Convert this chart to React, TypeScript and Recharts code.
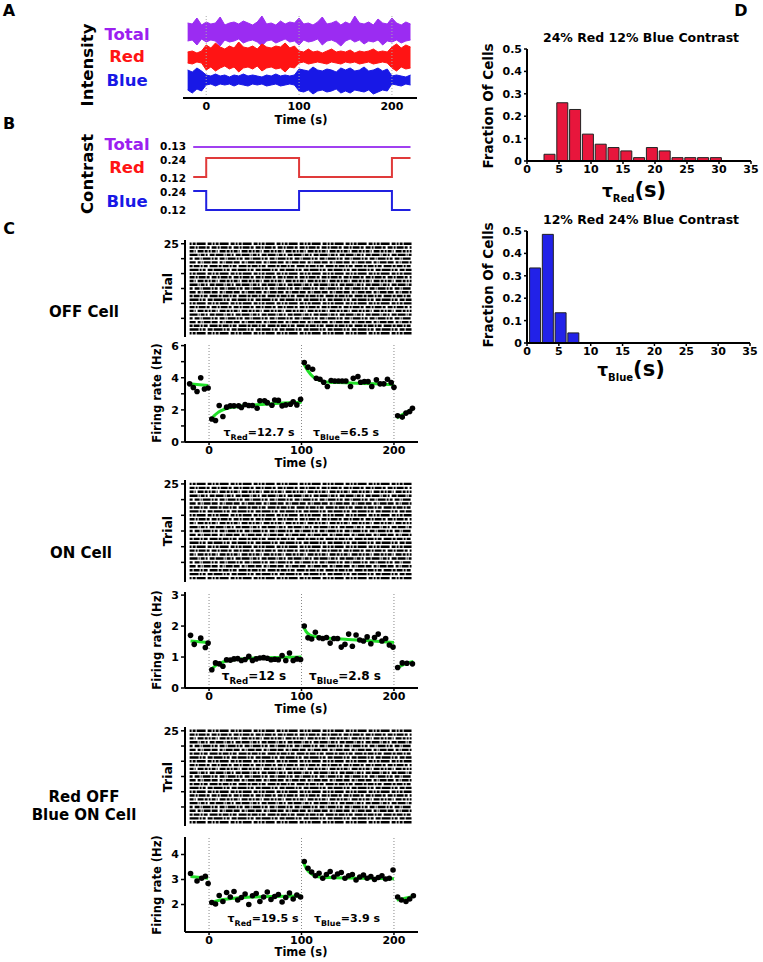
import React from 'react';
import { ComposedChart, Line, Area, Scatter, Bar, XAxis, YAxis, ReferenceLine } from 'recharts';

const FONT = '"DejaVu Sans", Verdana, sans-serif';
const GREEN = '#22e02a';
const PURPLE = '#9b2cf2';
const RED = '#ff1414';
const BLUE = '#1818e6';

// ---------- Panel A: stimulus intensity envelopes ----------
const intTimes = [-20,-15,-10,-5,0,5,10,15,20,25,30,35,40,45,50,55,60,65,70,75,80,85,90,95,100,105,110,115,120,125,130,135,140,145,150,155,160,165,170,175,180,185,190,195,200,205,210,215,220];
const totalHi = [75,74,80,73,76,74,75,81,73,75, 76,74,77,75,73,76,82,74,75,73, 77,74,76,75,80,74,75,73,76,81, 74,75,77,73,76,74,82,75,74,76, 73,79,75,74,80,75,73,76,74];
const totalLo = [57,58,53,59,56,58,57,52,58,56, 57,59,55,57,58,56,52,57,58,55, 57,59,56,57,53,58,56,57,59,53, 57,58,56,52,57,59,56,58,54,57, 56,58,53,57,56,58,55,57,58];
const redHi = [46,47,45,47, 53,50,55,51,49,52,50,56,51,50,52,49,54,51,50,52,51,55,50,52, 47,46,49,46,47,45,47,49,46,47,46,48,45,47,46,47,49,46,47,46, 51,54,50,53,51];
const redLo = [35,34,36,35, 28,31,27,30,32,29,31,26,30,31,29,32,27,30,31,29,30,26,31,30, 35,36,34,35,36,35,34,36,35,34,36,35,36,34,35,36,34,35,36,35, 30,27,31,29,30];
const blueHi = [28,26,30,27, 23,22,24,22,23,21,23,22,24,22,23,22,21,23,22,24,22,23,22,23, 29,28,27,31,28,27,29,28,26,30,28,30,27,28,31,27,28,30,27,29, 22,23,22,21,23];
const blueLo = [8,5,9,7, 13,14,12,14,13,14,12,14,13,12,14,13,14,12,13,14,12,13,14,13, 7,6,8,4,7,8,6,7,9,5,7,5,8,7,6,8,4,6,8,7, 14,13,12,14,13];

// ---------- Panel B: contrast steps ----------
const contrastTimes = [-14, 0, 100, 200, 220];
const contrastTotal = [0.13, 0.13, 0.13, 0.13, 0.13];
const contrastRed = [0.12, 0.24, 0.12, 0.24, 0.24];
const contrastBlue = [0.24, 0.12, 0.24, 0.12, 0.12];

// ---------- Panel C: firing rates ----------
const offPreT = [-21, -17, -13, -9, -5, -1];
const offPreV = [3.62, 3.39, 3.14, 4.0, 3.3, 3.36];
const offRedT = [3, 7, 11, 15, 19, 23, 27, 32, 35, 39, 43, 47, 52, 55, 60, 63, 68, 71, 75, 79, 83, 88, 91, 95, 99];
const offRedV = [1.43, 1.34, 2.27, 1.59, 2.17, 2.25, 2.25, 2.25, 2.15, 2.33, 2.27, 2.27, 2.1, 2.57, 2.57, 2.45, 2.29, 2.61, 2.59, 2.25, 2.31, 2.35, 2.51, 2.31, 2.66];
const offBlueT = [103, 107, 112, 116, 120, 124, 128, 132, 136, 140, 144, 148, 153, 156, 161, 164, 168, 172, 176, 181, 185, 189, 193, 197, 200];
const offBlueV = [4.95, 4.66, 4.53, 3.97, 3.91, 3.72, 3.45, 3.83, 3.8, 3.8, 3.8, 3.8, 3.45, 3.97, 4.07, 3.72, 3.76, 3.76, 3.45, 3.87, 3.62, 3.62, 3.91, 3.7, 3.41];
const offPostT = [204, 209, 213, 217, 220];
const offPostV = [1.63, 1.55, 1.8, 1.9, 2.1];
const offFitPreT = [-22, -1];
const offFitPreV = [3.62, 3.52];
const offFitRedT = [2, 5, 10, 15, 20, 30, 40, 60, 80, 100];
const offFitRedV = [1.35, 1.6, 1.85, 2.0, 2.1, 2.2, 2.27, 2.35, 2.42, 2.47];
const offFitBlueT = [102, 105, 110, 115, 120, 130, 140, 160, 180, 200];
const offFitBlueV = [4.95, 4.6, 4.2, 3.95, 3.82, 3.72, 3.7, 3.66, 3.62, 3.56];
const offFitPostT = [203, 212, 220];
const offFitPostV = [1.5, 1.8, 2.05];

const onPreT = [-20, -16, -9, -4, -1];
const onPreV = [1.7, 1.41, 1.61, 1.31, 1.45];
const onRedT = [3, 7, 11, 15, 19, 23, 27, 31, 35, 39, 43, 47, 51, 55, 59, 63, 67, 71, 75, 79, 83, 87, 91, 95, 99];
const onRedV = [0.59, 0.81, 0.78, 0.7, 0.91, 0.9, 0.94, 0.95, 0.89, 0.92, 1.02, 0.89, 0.94, 0.97, 0.98, 0.96, 0.91, 0.93, 0.91, 1.05, 0.89, 1.13, 0.89, 0.94, 0.92];
const onBlueT = [103, 107, 111, 115, 119, 123, 127, 131, 135, 139, 143, 147, 151, 155, 159, 163, 167, 171, 175, 179, 183, 187, 191, 195, 199];
const onBlueV = [2.0, 1.62, 1.58, 1.8, 1.62, 1.6, 1.63, 1.45, 1.6, 1.6, 1.32, 1.41, 1.74, 1.35, 1.71, 1.55, 1.52, 1.65, 1.43, 1.63, 1.74, 1.52, 1.6, 1.39, 1.32];
const onPostT = [204, 209, 214, 220];
const onPostV = [0.66, 0.81, 0.8, 0.78];
const onFitPreT = [-20, -1];
const onFitPreV = [1.52, 1.47];
const onFitRedT = [3, 6, 10, 15, 20, 30, 40, 60, 80, 100];
const onFitRedV = [0.62, 0.7, 0.78, 0.84, 0.88, 0.92, 0.95, 0.98, 0.99, 1.0];
const onFitBlueT = [102, 105, 110, 115, 120, 130, 150, 170, 200];
const onFitBlueV = [2.0, 1.82, 1.7, 1.66, 1.64, 1.61, 1.57, 1.53, 1.47];
const onFitPostT = [204, 212, 221];
const onFitPostV = [0.66, 0.78, 0.86];

const rbPreT = [-20, -13, -8, -4, -1];
const rbPreV = [3.24, 2.94, 3.05, 3.13, 2.84];
const rbRedT = [3, 7, 11, 15, 19, 23, 27, 31, 35, 39, 43, 47, 51, 55, 59, 63, 67, 71, 75, 79, 83, 87, 91, 95, 99];
const rbRedV = [2.08, 2.02, 2.36, 2.12, 2.48, 2.3, 2.52, 2.18, 2.28, 2.42, 2.0, 2.35, 2.44, 2.12, 2.3, 2.5, 2.2, 2.32, 2.4, 2.1, 2.28, 2.46, 2.22, 2.38, 2.3];
const rbBlueT = [103, 107, 111, 115, 119, 123, 127, 131, 135, 139, 143, 147, 151, 155, 159, 163, 167, 171, 175, 179, 183, 187, 191, 195, 199];
const rbBlueV = [3.72, 3.45, 3.3, 3.15, 3.25, 3.05, 3.2, 3.32, 3.1, 3.22, 3.28, 3.05, 3.15, 3.2, 2.98, 3.1, 3.18, 3.05, 3.12, 3.0, 3.08, 3.15, 3.02, 3.05, 3.38];
const rbPostT = [204, 208, 213, 217, 221];
const rbPostV = [2.3, 2.18, 2.12, 2.22, 2.35];
const rbFitPreT = [-20, -1];
const rbFitPreV = [3.12, 3.05];
const rbFitRedT = [2, 5, 10, 20, 30, 50, 70, 100];
const rbFitRedV = [2.05, 2.1, 2.16, 2.22, 2.26, 2.3, 2.32, 2.34];
const rbFitBlueT = [102, 105, 110, 115, 120, 130, 150, 170, 200];
const rbFitBlueV = [3.7, 3.45, 3.25, 3.15, 3.1, 3.08, 3.06, 3.05, 3.03];
const rbFitPostT = [203, 221];
const rbFitPostV = [2.18, 2.32];

const tauRed = ['12.7', '12', '19.5'];
const tauBlue = ['6.5', '2.8', '3.9'];
const trials = [1,2,3,4,5,6,7,8,9,10,11,12,13,14,15,16,17,18,19,20,21,22,23,24,25];
const trialTicks = [1, 5, 9, 13, 17, 21, 25];
const timeTicks = [0, 100, 200];

// ---------- Panel D: histograms ----------
const redBins = [3.5, 5.5, 7.5, 9.5, 11.5, 13.5, 15.5, 17.5, 19.5, 21.5, 23.5, 25.5, 27.5, 29.5];
const redFrac = [0.03, 0.26, 0.23, 0.12, 0.075, 0.06, 0.045, 0.015, 0.06, 0.045, 0.015, 0.015, 0.015, 0.015];
const blueBins = [1.25, 3.25, 5.25, 7.25];
const blueFrac = [0.335, 0.485, 0.135, 0.045];
const histXTicks = [0, 5, 10, 15, 20, 25, 30, 35];
const histYTicks = [0, 0.1, 0.2, 0.3, 0.4, 0.5];

// ---------- styles ----------
const RASTER_DASH = [
  '5 1 2 1 7 1 3 2', '3 1 6 1 2 1 4 2 8 1', '8 1 1 1 4 1 2 2 5 1', '2 1 3 1 9 2 4 1',
  '6 2 3 1 1 1 7 1', '4 1 1 2 6 1 3 1 2 1', '9 1 2 1 3 2 5 1', '3 2 5 1 1 1 8 1 2 1',
];
const tickStyle = { fill: '#000', fontSize: 11, fontWeight: 700, fontFamily: FONT };
const axisLineStyle = { stroke: '#000', strokeWidth: 2 };
const tickLineStyle = { stroke: '#000', strokeWidth: 1.5 };
const T_DOMAIN_A: [number, number] = [-25, 227];
const T_DOMAIN_C: [number, number] = [-26, 226];

const pts = (t: number[], v: number[]) => t.map((x, i) => ({ t: x, v: v[i] }));

type Rect = { x0: number; y0: number; x1: number; y1: number };

function Frame({ rect, yw, xh, mt, mr = 8, data, children }: any) {
  const W = rect.x1 - rect.x0 + yw + mr;
  const H = rect.y1 - rect.y0 + mt + xh;
  return (
    <div style={{ position: 'absolute', left: rect.x0 - yw, top: rect.y0 - mt }}>
      <ComposedChart width={W} height={H} data={data} margin={{ top: mt, right: mr, bottom: 0, left: 0 }}>
        {children}
      </ComposedChart>
    </div>
  );
}

function Txt({ x, y, size = 11, color = '#000', align = 'center', children }: any) {
  const tx = align === 'right' ? '-100%' : align === 'left' ? '0' : '-50%';
  return (
    <div
      style={{
        position: 'absolute', left: x, top: y, transform: `translate(${tx},-50%)`,
        fontFamily: FONT, fontWeight: 700, fontSize: size, color, whiteSpace: 'nowrap', lineHeight: 1,
      }}
    >
      {children}
    </div>
  );
}

function RotTxt({ x, y, size, children }: any) {
  return (
    <div style={{ position: 'absolute', left: x, top: y, width: 0, height: 0 }}>
      <div style={{ position: 'absolute', left: 0, top: 0, transform: 'translate(-50%,-50%) rotate(-90deg)', fontFamily: FONT, fontWeight: 700, fontSize: size, whiteSpace: 'nowrap', lineHeight: 1 }}>
        {children}
      </div>
    </div>
  );
}

function Tau({ x, y, sub, val, size }: any) {
  return (
    <Txt x={x} y={y} size={size}>
      τ<span style={{ fontSize: size * 0.72, position: 'relative', top: size * 0.32 }}>{sub}</span>={val} s
    </Txt>
  );
}

const dotShape = (p: any) => <circle cx={p.cx} cy={p.cy} r={2.8} fill="#000" />;

function RateChart({ rect, domain, ticks, labels, dots, fits }: any) {
  return (
    <Frame rect={rect} yw={26} xh={16} mt={8}>
      <XAxis dataKey="t" type="number" domain={T_DOMAIN_C} ticks={timeTicks} allowDataOverflow axisLine={axisLineStyle} tickLine={tickLineStyle} tickSize={3} tickMargin={1} tick={tickStyle} height={16} />
      <YAxis dataKey="v" type="number" domain={domain} ticks={ticks} allowDataOverflow width={26} axisLine={axisLineStyle} tickLine={tickLineStyle} tickSize={4} tickMargin={2} tick={tickStyle}
        tickFormatter={(v: number) => (labels.includes(v) ? String(v) : '')} />
      {timeTicks.map((x) => (
        <ReferenceLine key={'r' + x} x={x} stroke="#888" strokeDasharray="1 2" strokeWidth={1} />
      ))}
      {fits.map((f: any, i: number) => (
        <Line key={'f' + i} data={pts(f[0], f[1])} dataKey="v" type="monotone" stroke={GREEN} strokeWidth={3} dot={false} activeDot={false} isAnimationActive={false} />
      ))}
      {dots.map((d: any, i: number) => (
        <Scatter key={'d' + i} data={pts(d[0], d[1])} dataKey="v" shape={dotShape} isAnimationActive={false} />
      ))}
    </Frame>
  );
}

function Raster({ rect }: any) {
  return (
    <Frame rect={rect} yw={26} xh={0} mt={4}>
      <XAxis hide dataKey="t" type="number" domain={T_DOMAIN_C} allowDataOverflow />
      <YAxis dataKey="v" type="number" domain={[0, 26]} ticks={trialTicks} allowDataOverflow width={26} axisLine={axisLineStyle} tickLine={tickLineStyle} tickSize={4} tickMargin={2} tick={tickStyle}
        tickFormatter={(v: number) => (v === 1 || v === 25 ? String(v) : '')} />
      {trials.map((k) => (
        <Line key={'tr' + k} data={[{ t: -21, v: k }, { t: 219, v: k }]} dataKey="v" stroke="#000" strokeWidth={2.4}
          strokeDasharray={RASTER_DASH[(k * 3) % RASTER_DASH.length]} dot={false} activeDot={false} isAnimationActive={false} />
      ))}
    </Frame>
  );
}

function Hist({ rect, bins, fracs, color }: any) {
  const data = bins.map((b: number, i: number) => ({ x: b, f: fracs[i] }));
  return (
    <Frame rect={rect} yw={34} xh={18} mt={8} data={data}>
      <XAxis dataKey="x" type="number" domain={[0, 35]} ticks={histXTicks} allowDataOverflow axisLine={axisLineStyle} tickLine={tickLineStyle} tickSize={3} tickMargin={1} tick={tickStyle} height={18} />
      <YAxis type="number" domain={[0, 0.5]} ticks={histYTicks} width={34} axisLine={axisLineStyle} tickLine={tickLineStyle} tickSize={3} tickMargin={2} tick={tickStyle}
        tickFormatter={(v: number) => (v === 0 ? '0' : v.toFixed(1))} />
      <Bar dataKey="f" fill={color} stroke="#222" strokeWidth={1} barSize={11} isAnimationActive={false} />
    </Frame>
  );
}

// contrast axis domains (layout)
const B_RECT: Rect = { x0: 183, y0: 140, x1: 417, y1: 215 };
const domTot: [number, number] = [-0.2995, 0.1742];
const domRed: [number, number] = [-0.12, 0.3537];
const domBlue: [number, number] = [0.0884, 0.5621];
const yOf = (v: number, d: [number, number]) => B_RECT.y1 - ((v - d[0]) / (d[1] - d[0])) * (B_RECT.y1 - B_RECT.y0);

export default function App() {
  const intensityRows = intTimes.map((t, i) => ({
    t, total: [totalLo[i], totalHi[i]], red: [redLo[i], redHi[i]], blue: [blueLo[i], blueHi[i]],
  }));
  const contrastRows = contrastTimes.map((t, i) => ({ t, total: contrastTotal[i], red: contrastRed[i], blue: contrastBlue[i] }));
  const contrastLabels = [
    { v: contrastTotal[0], d: domTot, dy: -1 }, { v: 0.24, d: domRed, dy: 2 }, { v: 0.12, d: domRed, dy: 1 },
    { v: 0.24, d: domBlue, dy: 1 }, { v: 0.12, d: domBlue, dy: 0 },
  ];

  return (
    <div style={{ position: 'absolute', left: 0, top: 0, width: 763, height: 962, background: '#fff', fontFamily: FONT }}>
      {/* Panel A */}
      <Frame rect={{ x0: 183, y0: 14, x1: 417, y1: 98 }} yw={0} xh={16} mt={0} data={intensityRows}>
        <XAxis dataKey="t" type="number" domain={T_DOMAIN_A} ticks={timeTicks} allowDataOverflow axisLine={axisLineStyle} tickLine={false} tickSize={3} tickMargin={1} tick={tickStyle} height={16} />
        <YAxis hide type="number" domain={[0, 84]} />
        <Area dataKey="total" type="linear" stroke={PURPLE} fill={PURPLE} fillOpacity={1} strokeWidth={1} isAnimationActive={false} dot={false} activeDot={false} />
        <Area dataKey="red" type="linear" stroke={RED} fill={RED} fillOpacity={1} strokeWidth={1} isAnimationActive={false} dot={false} activeDot={false} />
        <Area dataKey="blue" type="linear" stroke={BLUE} fill={BLUE} fillOpacity={1} strokeWidth={1} isAnimationActive={false} dot={false} activeDot={false} />
        {timeTicks.map((x) => (
          <ReferenceLine key={'a' + x} x={x} stroke="#aaa" strokeDasharray="1 2" strokeWidth={1} />
        ))}
      </Frame>

      {/* Panel B */}
      <Frame rect={B_RECT} yw={0} xh={0} mt={0} data={contrastRows}>
        <XAxis hide dataKey="t" type="number" domain={T_DOMAIN_A} allowDataOverflow />
        <YAxis yAxisId="tot" hide type="number" domain={domTot} allowDataOverflow />
        <YAxis yAxisId="red" hide type="number" domain={domRed} allowDataOverflow />
        <YAxis yAxisId="blue" hide type="number" domain={domBlue} allowDataOverflow />
        <Line yAxisId="tot" dataKey="total" type="stepAfter" stroke="#a040f0" strokeWidth={2} dot={false} activeDot={false} isAnimationActive={false} />
        <Line yAxisId="red" dataKey="red" type="stepAfter" stroke="#e03a3a" strokeWidth={2} dot={false} activeDot={false} isAnimationActive={false} />
        <Line yAxisId="blue" dataKey="blue" type="stepAfter" stroke="#2020e0" strokeWidth={2} dot={false} activeDot={false} isAnimationActive={false} />
      </Frame>
      {contrastLabels.map((l, i) => (
        <Txt key={'cl' + i} x={186} y={yOf(l.v, l.d) + l.dy} size={10.5} align="right">{l.v.toFixed(2)}</Txt>
      ))}

      {/* Panel C rasters and rates */}
      <Raster rect={{ x0: 185, y0: 240, x1: 418, y1: 337 }} />
      <RateChart rect={{ x0: 185, y0: 344, x1: 418, y1: 442 }} domain={[0, 6.1]} ticks={[0, 1, 2, 3, 4, 5, 6]} labels={[0, 2, 4, 6]}
        dots={[[offPreT, offPreV], [offRedT, offRedV], [offBlueT, offBlueV], [offPostT, offPostV]]}
        fits={[[offFitPreT, offFitPreV], [offFitRedT, offFitRedV], [offFitBlueT, offFitBlueV], [offFitPostT, offFitPostV]]} />

      <Raster rect={{ x0: 185, y0: 480, x1: 418, y1: 582 }} />
      <RateChart rect={{ x0: 185, y0: 592, x1: 418, y1: 688 }} domain={[0, 3.1]} ticks={[0, 1, 2, 3]} labels={[0, 1, 2, 3]}
        dots={[[onPreT, onPreV], [onRedT, onRedV], [onBlueT, onBlueV], [onPostT, onPostV]]}
        fits={[[onFitPreT, onFitPreV], [onFitRedT, onFitRedV], [onFitBlueT, onFitBlueV], [onFitPostT, onFitPostV]]} />

      <Raster rect={{ x0: 185, y0: 727, x1: 418, y1: 826 }} />
      <RateChart rect={{ x0: 185, y0: 837, x1: 418, y1: 932 }} domain={[0.9, 4.7]} ticks={[2, 3, 4]} labels={[2, 3, 4]}
        dots={[[rbPreT, rbPreV], [rbRedT, rbRedV], [rbBlueT, rbBlueV], [rbPostT, rbPostV]]}
        fits={[[rbFitPreT, rbFitPreV], [rbFitRedT, rbFitRedV], [rbFitBlueT, rbFitBlueV], [rbFitPostT, rbFitPostV]]} />

      {/* Panel D */}
      <Hist rect={{ x0: 527, y0: 49, x1: 751, y1: 161 }} bins={redBins} fracs={redFrac} color="#e8163c" />
      <Hist rect={{ x0: 527, y0: 231, x1: 750, y1: 343 }} bins={blueBins} fracs={blueFrac} color="#2222e8" />

      {/* Text */}
      <Txt x={9} y={11} size={16}>A</Txt>
      <Txt x={9} y={124} size={16}>B</Txt>
      <Txt x={9} y={229} size={16}>C</Txt>
      <Txt x={741} y={11} size={16}>D</Txt>

      <RotTxt x={88} y={65} size={16.5}>Intensity</RotTxt>
      <Txt x={127} y={35} size={16.5} color="#9b20f0">Total</Txt>
      <Txt x={127} y={57} size={16.5} color={RED}>Red</Txt>
      <Txt x={127} y={81} size={16.5} color={BLUE}>Blue</Txt>
      <Txt x={301} y={121} size={11.5}>Time (s)</Txt>

      <RotTxt x={88} y={174} size={16.5}>Contrast</RotTxt>
      <Txt x={127} y={145} size={16.5} color="#9b20f0">Total</Txt>
      <Txt x={127} y={168} size={16.5} color={RED}>Red</Txt>
      <Txt x={127} y={202} size={16.5} color={BLUE}>Blue</Txt>

      <Txt x={84} y={312} size={15}>OFF Cell</Txt>
      <RotTxt x={168} y={288} size={12.5}>Trial</RotTxt>
      <RotTxt x={158} y={393} size={11.5}>Firing rate (Hz)</RotTxt>
      <Tau x={259} y={432} sub="Red" val={tauRed[0]} size={11} />
      <Tau x={346} y={432} sub="Blue" val={tauBlue[0]} size={11} />
      <Txt x={301} y={464} size={11.5}>Time (s)</Txt>

      <Txt x={81} y={553} size={15}>ON Cell</Txt>
      <RotTxt x={168} y={531} size={12.5}>Trial</RotTxt>
      <RotTxt x={158} y={640} size={11.5}>Firing rate (Hz)</RotTxt>
      <Tau x={254} y={676} sub="Red" val={tauRed[1]} size={12} />
      <Tau x={345} y={676} sub="Blue" val={tauBlue[1]} size={12} />
      <Txt x={301} y={710} size={11.5}>Time (s)</Txt>

      <Txt x={84} y={797} size={15}>Red OFF</Txt>
      <Txt x={84} y={815} size={15}>Blue ON Cell</Txt>
      <RotTxt x={168} y={777} size={12.5}>Trial</RotTxt>
      <RotTxt x={158} y={885} size={11.5}>Firing rate (Hz)</RotTxt>
      <Tau x={263} y={918} sub="Red" val={tauRed[2]} size={11} />
      <Tau x={347} y={918} sub="Blue" val={tauBlue[2]} size={11} />
      <Txt x={301} y={953} size={11.5}>Time (s)</Txt>

      <Txt x={641} y={38} size={12.5}>24% Red 12% Blue Contrast</Txt>
      <RotTxt x={489} y={106} size={13.5}>Fraction Of Cells</RotTxt>
      <Txt x={634} y={190} size={17}>τ<span style={{ fontSize: 10, position: 'relative', top: 5 }}>Red</span><span style={{ fontSize: 21 }}>(s)</span></Txt>

      <Txt x={641} y={220} size={12.5}>12% Red 24% Blue Contrast</Txt>
      <RotTxt x={489} y={285} size={13.5}>Fraction Of Cells</RotTxt>
      <Txt x={631} y={369} size={17}>τ<span style={{ fontSize: 10, position: 'relative', top: 5 }}>Blue</span><span style={{ fontSize: 21 }}>(s)</span></Txt>
    </div>
  );
}
